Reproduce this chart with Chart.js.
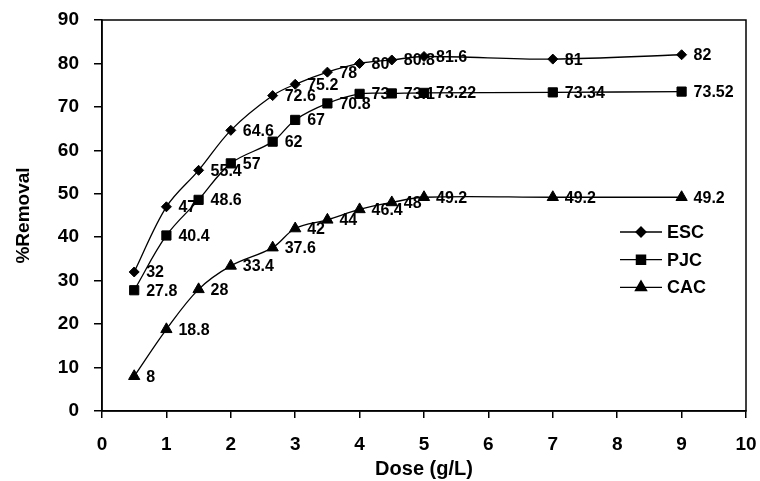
<!DOCTYPE html>
<html>
<head>
<meta charset="utf-8">
<script src="https://cdn.jsdelivr.net/npm/chart.js@4/dist/chart.umd.min.js"></script>
<style>
  html, body { margin: 0; padding: 0; background: #fff; }
  #wrap { width: 760px; height: 481px; position: relative; }
</style>
</head>
<body>
<div id="wrap"><canvas id="removalChart"></canvas></div>
<script>

// --- Data: % removal vs adsorbent dose ---
const doses = [0.5, 1, 1.5, 2, 2.65, 3, 3.5, 4, 4.5, 5, 7, 9]
const escRemoval = [32, 47, 55.4, 64.6, 72.6, 75.2, 78, 80, 80.8, 81.6, 81, 82]
const pjcRemoval = [27.8, 40.4, 48.6, 57, 62, 67, 70.8, 73, 73.1, 73.22, 73.34, 73.52]
const cacRemoval = [8, 18.8, 28, 33.4, 37.6, 42, 44, 46.4, 48, 49.2, 49.2, 49.2]

const seriesNames = ["ESC", "PJC", "CAC"]
const seriesMarkers = ["rectRot", "rect", "triangle"]
const markerSizes = [5, 6.5, 6.5]

const font = "'Liberation Sans', Arial, sans-serif"

function toPoints(ys) {
    return doses.map((d, i) => ({ x: d, y: ys[i] }))
}

function makeDataset(i, ys) {
    return {
        label: seriesNames[i],
        data: toPoints(ys),
        borderColor: "#000",
        borderWidth: 1.3,
        backgroundColor: "#000",
        pointStyle: seriesMarkers[i],
        pointRadius: markerSizes[i],
        pointBackgroundColor: "#000",
        pointBorderColor: "#000",
        pointBorderWidth: 1,
        tension: 0.35,
        fill: false
    }
}

// ================================
// Plugins: frame, value labels, legend
// ================================

const frameBox = {
    id: "frameBox",
    afterDraw(chart) {
        const { ctx, chartArea: a } = chart
        ctx.save()
        ctx.strokeStyle = "#000"
        ctx.lineWidth = 1.5
        ctx.strokeRect(a.left, a.top, a.right - a.left, a.bottom - a.top)
        ctx.restore()
    }
}

const valueLabels = {
    id: "valueLabels",
    afterDatasetsDraw(chart) {
        const ctx = chart.ctx
        ctx.save()
        ctx.fillStyle = "#000"
        ctx.font = "bold 16px " + font
        ctx.textAlign = "left"
        ctx.textBaseline = "middle"
        chart.data.datasets.forEach((ds, di) => {
            const meta = chart.getDatasetMeta(di)
            meta.data.forEach((pt, i) => {
                ctx.fillText(String(ds.data[i].y), pt.x + 12, pt.y + 1)
            })
        })
        ctx.restore()
    }
}

const insideLegend = {
    id: "insideLegend",
    afterDraw(chart) {
        const { ctx, chartArea: a } = chart
        const x0 = a.right - 126
        const y0 = a.top + 212
        const rowGap = 27.7
        ctx.save()
        ctx.font = "bold 18px " + font
        ctx.textBaseline = "middle"
        ctx.textAlign = "left"
        chart.data.datasets.forEach((ds, i) => {
            const y = y0 + i * rowGap
            ctx.strokeStyle = "#000"
            ctx.lineWidth = 1.3
            ctx.beginPath()
            ctx.moveTo(x0, y)
            ctx.lineTo(x0 + 42, y)
            ctx.stroke()
            ctx.fillStyle = "#000"
            Chart.helpers.drawPoint(ctx, {
                pointStyle: ds.pointStyle,
                radius: ds.pointRadius,
                borderWidth: 1,
                rotation: 0
            }, x0 + 21, y)
            ctx.fill()
            ctx.fillStyle = "#000"
            ctx.fillText(ds.label, x0 + 47, y + 1)
        })
        ctx.restore()
    }
}

// ================================
// Chart
// ================================

const ctx = document.getElementById("removalChart")

new Chart(ctx, {
    type: "line",
    data: {
        datasets: [
            makeDataset(0, escRemoval),
            makeDataset(1, pjcRemoval),
            makeDataset(2, cacRemoval)
        ]
    },
    options: {
        responsive: true,
        maintainAspectRatio: false,
        animation: false,
        layout: { padding: { top: 20, right: 14, left: 0, bottom: 0 } },
        plugins: {
            legend: { display: false },
            tooltip: { enabled: false }
        },
        scales: {
            x: {
                type: "linear",
                min: 0,
                max: 10,
                afterFit(scale) {
                    scale.height = 70
                    scale.paddingLeft = 0
                    scale.paddingRight = 0
                },
                border: { color: "#000", width: 1.5 },
                grid: {
                    drawOnChartArea: false,
                    drawTicks: true,
                    tickLength: 7,
                    color: "#000",
                    lineWidth: 1.5
                },
                ticks: {
                    stepSize: 1,
                    color: "#000",
                    padding: 15,
                    font: { family: font, size: 19, weight: "bold" }
                },
                title: {
                    display: true,
                    text: "Dose (g/L)",
                    color: "#000",
                    padding: { top: 0, bottom: 0 },
                    font: { family: font, size: 20, weight: "bold" }
                }
            },
            y: {
                min: 0,
                max: 90,
                afterFit(scale) {
                    scale.width = 102
                    scale.paddingTop = 0
                    scale.paddingBottom = 0
                },
                border: { color: "#000", width: 1.5 },
                grid: {
                    drawOnChartArea: false,
                    drawTicks: true,
                    tickLength: 8,
                    color: "#000",
                    lineWidth: 1.5
                },
                ticks: {
                    stepSize: 10,
                    color: "#000",
                    padding: 15,
                    font: { family: font, size: 19, weight: "bold" }
                },
                title: {
                    display: true,
                    text: "%Removal",
                    color: "#000",
                    padding: { top: 12, bottom: 0 },
                    font: { family: font, size: 19, weight: "bold" }
                }
            }
        }
    },
    plugins: [frameBox, valueLabels, insideLegend]
})

</script>
</body>
</html>
